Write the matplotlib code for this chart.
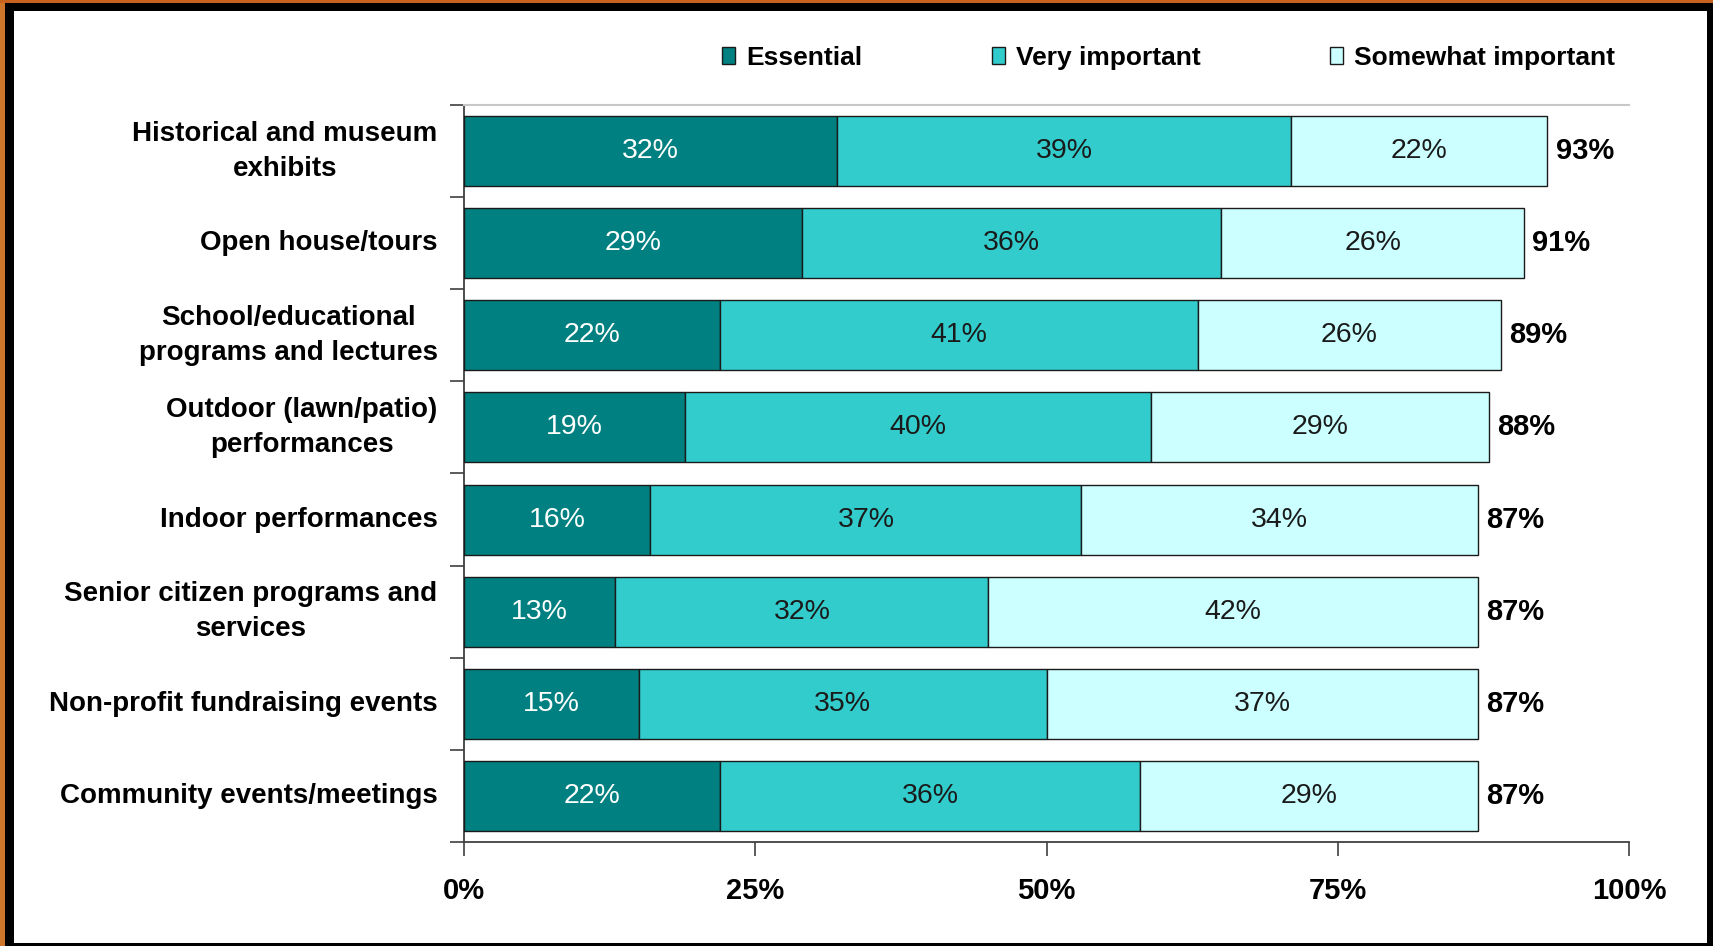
import matplotlib
matplotlib.use('Agg')
import matplotlib.pyplot as plt
from matplotlib.patches import Rectangle, Patch
import numpy as np

categories = [
    "Historical and museum\nexhibits",
    "Open house/tours",
    "School/educational\nprograms and lectures",
    "Outdoor (lawn/patio)\nperformances",
    "Indoor performances",
    "Senior citizen programs and\nservices",
    "Non-profit fundraising events",
    "Community events/meetings",
]
essential = [32, 29, 22, 19, 16, 13, 15, 22]
very_important = [39, 36, 41, 40, 37, 32, 35, 36]
somewhat_important = [22, 26, 26, 29, 34, 42, 37, 29]
totals = [93, 91, 89, 88, 87, 87, 87, 87]
series_names = ["Essential", "Very important", "Somewhat important"]
xticks = [0, 25, 50, 75, 100]
xtick_labels = ["0%", "25%", "50%", "75%", "100%"]

colors = ["#008080", "#33CCCC", "#CCFFFF"]
text_colors = ["white", "#1a1a1a", "#1a1a1a"]

plt.rcParams['font.family'] = ['Liberation Sans', 'DejaVu Sans']

W, H = 1713, 946
fig = plt.figure(figsize=(W / 100, H / 100), dpi=100)
fig.patch.set_facecolor('black')

# frame: white interior, orange outer strips on left and top
fig.patches.append(Rectangle((14 / W, 3 / H), (1707 - 14) / W, (943 - 11) / H,
                             transform=fig.transFigure, facecolor='white', edgecolor='none', zorder=-10))
fig.patches.append(Rectangle((0, 0), 5 / W, 1, transform=fig.transFigure,
                             facecolor='#D0762A', edgecolor='none', zorder=-9))
fig.patches.append(Rectangle((0, 1 - 3 / H), 1, 3 / H, transform=fig.transFigure,
                             facecolor='#C8621E', edgecolor='none', zorder=-9))

ax = fig.add_axes([464 / W, (H - 842) / H, (1629 - 464) / W, (842 - 105) / H])
ax.set_facecolor('white')

y = np.arange(len(categories))
lefts = np.zeros(len(categories))
for vals, color, tc in zip([essential, very_important, somewhat_important], colors, text_colors):
    vals = np.array(vals, dtype=float)
    ax.barh(y, vals, left=lefts, height=0.76, color=color, edgecolor='#1a1a1a', linewidth=1.0, zorder=3)
    for yi, l, v in zip(y, lefts, vals):
        ax.text(l + v / 2, yi, f"{int(v)}%", ha='center', va='center', color=tc, fontsize=20.5, zorder=4)
    lefts = lefts + vals

for yi, l, t in zip(y, lefts, totals):
    ax.annotate(f"{t}%", xy=(l, yi), xytext=(6, 0), textcoords='offset points',
                ha='left', va='center', fontsize=21, fontweight='bold', color='black')

ax.set_xlim(0, 100)
ax.set_ylim(len(categories) - 0.5, -0.5)

ax.set_yticks(y)
ax.set_yticklabels(categories, fontsize=20, fontweight='bold', multialignment='center',
                   linespacing=1.45, va='center')
ax.set_yticks(np.arange(-0.5, len(categories), 1), minor=True)
ax.tick_params(axis='y', which='major', length=0, pad=19)
ax.tick_params(axis='y', which='minor', length=10, width=1.2, color='#404040', direction='out')

ax.set_xticks(xticks)
ax.set_xticklabels(xtick_labels, fontsize=21, fontweight='bold')
ax.tick_params(axis='x', which='major', length=10, width=1.2, color='#404040', direction='out', pad=15)

for s in ['left', 'bottom']:
    ax.spines[s].set_color('#404040')
    ax.spines[s].set_linewidth(1.3)
ax.spines['top'].set_color('#C8C8C8')
ax.spines['top'].set_linewidth(1.5)
ax.spines['right'].set_visible(False)

handles = [Patch(facecolor=c, edgecolor='#1a1a1a', linewidth=1.0) for c in colors]
fig.legend(handles, series_names, loc='center left', bbox_to_anchor=(722 / W, 1 - 58 / H),
           ncol=3, frameon=False, borderpad=0, borderaxespad=0,
           handlelength=0.5, handleheight=0.6, handletextpad=0.42, columnspacing=4.9,
           prop={'weight': 'bold', 'size': 19})

fig.savefig('out.png', dpi=100, facecolor=fig.get_facecolor())
